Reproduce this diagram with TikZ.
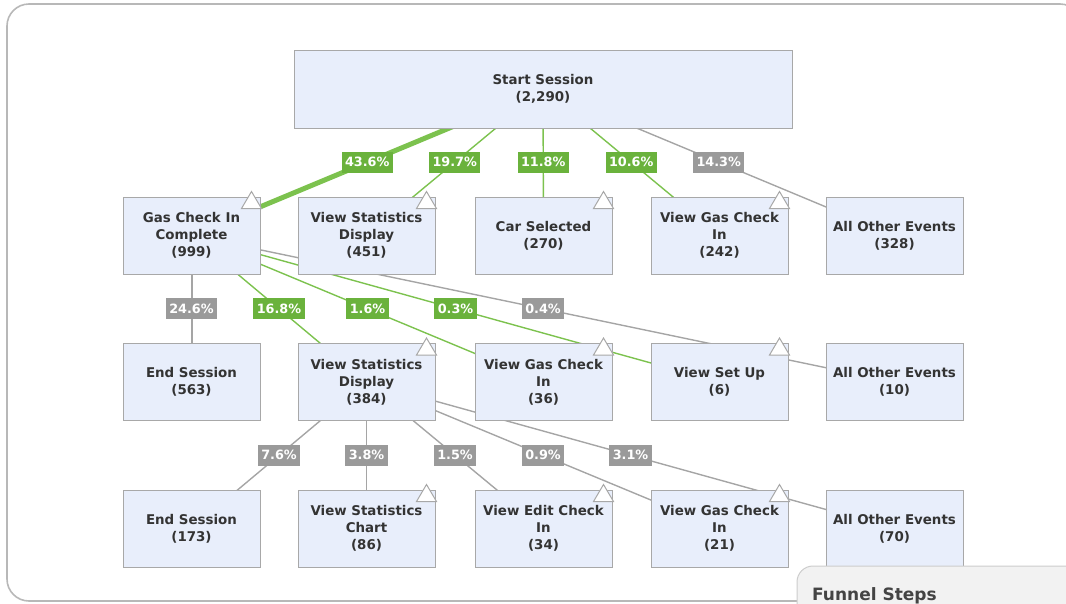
\documentclass[tikz,border=0pt]{standalone}
\usepackage{fontspec}
\setmainfont{DejaVu Sans}
\usetikzlibrary{backgrounds,calc}
\definecolor{boxfill}{HTML}{E8EEFB}
\definecolor{boxline}{HTML}{A8A8A8}
\definecolor{grn}{HTML}{6AB23C}
\definecolor{grnline}{HTML}{7CC24E}
\definecolor{gry}{HTML}{9A9A9A}
\definecolor{gryline}{HTML}{A5A5A5}
\definecolor{txt}{HTML}{333333}
\definecolor{framec}{HTML}{B8B8B8}
\definecolor{panelfill}{HTML}{F2F2F2}
\definecolor{panelline}{HTML}{CCCCCC}
\definecolor{paneltxt}{HTML}{444444}
\newcommand\cornertri[1]{\draw[tristyle] ($(#1.north east)+(-19,12)$) -- ($(#1.north east)+(-9,-5)$) -- ($(#1.north east)+(1,12)$) -- cycle;}
\begin{document}
\begin{tikzpicture}[x=1pt,y=-1pt,
  evbox/.style={draw=boxline, fill=boxfill, line width=1pt, minimum width=137pt, minimum height=77pt, inner sep=0pt, align=center, font=\fontsize{13.4}{17}\selectfont\bfseries, text=txt},
  pct/.style={fill=#1, text=white, font=\fontsize{12.8}{14}\selectfont\bfseries, inner xsep=3.5pt, inner ysep=0pt, minimum height=21pt, midway},
  gedge/.style={draw=grnline, line width=1.4pt},
  yedge/.style={draw=gryline, line width=1.4pt},
  tristyle/.style={fill=white, draw=boxline, line width=1pt, line join=miter}
]
\useasboundingbox (0,0) rectangle (1066,603);

% nodes
\node[evbox, minimum width=498pt, minimum height=78pt] (start) at (543,89) {Start Session\\(2,290)};

\node[evbox] (gc)   at (191.5,235.5) {Gas Check In\\Complete\\(999)};
\node[evbox] (vsd1) at (366.5,235.5) {View Statistics\\Display\\(451)};
\node[evbox] (car)  at (543.5,235.5) {Car Selected\\(270)};
\node[evbox] (vgc1) at (719.5,235.5) {View Gas Check\\In\\(242)};
\node[evbox] (aoe1) at (894.5,235.5) {All Other Events\\(328)};

\node[evbox] (es2)  at (191.5,382) {End Session\\(563)};
\node[evbox] (vsd2) at (366.5,382) {View Statistics\\Display\\(384)};
\node[evbox] (vgc2) at (543.5,382) {View Gas Check\\In\\(36)};
\node[evbox] (vsu)  at (719.5,382) {View Set Up\\(6)};
\node[evbox] (aoe2) at (894.5,382) {All Other Events\\(10)};

\node[evbox] (es3)  at (191.5,528.5) {End Session\\(173)};
\node[evbox] (vsc)  at (366.5,528.5) {View Statistics\\Chart\\(86)};
\node[evbox] (vec)  at (543.5,528.5) {View Edit Check\\In\\(34)};
\node[evbox] (vgc3) at (719.5,528.5) {View Gas Check\\In\\(21)};
\node[evbox] (aoe3) at (894.5,528.5) {All Other Events\\(70)};

\cornertri{gc}\cornertri{vsd1}\cornertri{car}\cornertri{vgc1}
\cornertri{vsd2}\cornertri{vgc2}\cornertri{vsu}
\cornertri{vsc}\cornertri{vec}\cornertri{vgc3}

% funnel panel
\filldraw[fill=panelfill, draw=panelline, line width=1pt, rounded corners=16pt] (797,566) rectangle (1110,660);
\node[anchor=base west, inner sep=0pt, text=paneltxt, font=\fontsize{17}{20}\selectfont\bfseries] (funnel) at (812,600.5) {Funnel Steps};

\begin{scope}[on background layer]
  \draw[draw=framec, line width=1.6pt, rounded corners=22pt] (7,4) rectangle (1082,601);
  % level 1
  \draw[gedge, line width=5pt] (start.center) -- node[pct=grn] {43.6\%} (gc.center);
  \draw[gedge] (start.center) -- node[pct=grn] {19.7\%} (vsd1.center);
  \draw[gedge] (start.center) -- node[pct=grn] {11.8\%} (car.center);
  \draw[gedge] (start.center) -- node[pct=grn] {10.6\%} (vgc1.center);
  \draw[yedge] (start.center) -- node[pct=gry] {14.3\%} (aoe1.center);
  % level 2
  \draw[yedge, line width=2pt] (gc.center) -- node[pct=gry] {24.6\%} (es2.center);
  \draw[gedge] (gc.center) -- node[pct=grn] {16.8\%} (vsd2.center);
  \draw[gedge] (gc.center) -- node[pct=grn] {1.6\%} (vgc2.center);
  \draw[gedge] (gc.center) -- node[pct=grn] {0.3\%} (vsu.center);
  \draw[yedge] (gc.center) -- node[pct=gry] {0.4\%} (aoe2.center);
  % level 3
  \draw[yedge] (vsd2.center) -- node[pct=gry] {7.6\%} (es3.center);
  \draw[yedge] (vsd2.center) -- node[pct=gry] {3.8\%} (vsc.center);
  \draw[yedge] (vsd2.center) -- node[pct=gry] {1.5\%} (vec.center);
  \draw[yedge] (vsd2.center) -- node[pct=gry] {0.9\%} (vgc3.center);
  \draw[yedge] (vsd2.center) -- node[pct=gry] {3.1\%} (aoe3.center);
\end{scope}
\end{tikzpicture}
\end{document}
